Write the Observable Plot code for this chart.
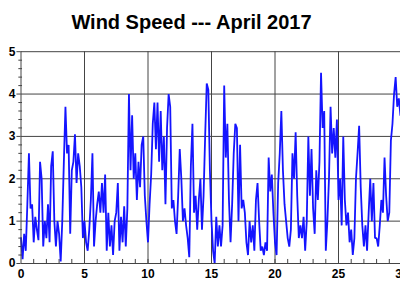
<!DOCTYPE html>
<html>
<head>
<meta charset="utf-8">
<script src="https://cdn.jsdelivr.net/npm/d3@7"></script>
<script src="https://cdn.jsdelivr.net/npm/@observablehq/plot@0.6"></script>
<style>
  html, body { margin: 0; padding: 0; background: #fff; width: 400px; height: 300px; overflow: hidden; }
  #title { height: 40px; font: bold 20px "Liberation Sans", Arial, sans-serif; line-height: 45px; text-align: center; padding-right: 17px; color: #000; white-space: nowrap; }
  #chart svg { display: block; }
</style>
</head>
<body>
<div id="title">Wind Speed --- April 2017</div>
<div id="chart"></div>
<script>
// Wind speed, read every 3 hours (8 readings per day), April 1–30
const speed = [
  0.6, 0.1, 0.7, 0.3, 1.4, 2.6, 1.3, 1.4,
  0.5, 1.1, 0.8, 0.55, 2.4, 2.0, 0.4, 1.0,
  0.6, 1.4, 0.5, 2.3, 2.65, 1.0, 0.4, 1.0,
  0.7, 0.05, 1.0, 2.4, 3.7, 2.6, 2.8, 0.7,
  2.2, 2.4, 3.05, 1.9, 2.6, 2.3, 1.8, 0.6,
  1.0, 0.5, 0.3, 0.8, 1.5, 2.6, 0.4, 1.0,
  1.4, 1.7, 1.2, 1.9, 1.2, 2.1, 0.3, 1.2,
  0.4, 0.9, 0.2, 1.0, 1.2, 1.9, 0.3, 1.1,
  0.5, 1.35, 0.4, 1.3, 4.0, 2.2, 3.5, 2.0,
  2.6, 1.5, 2.4, 1.8, 2.8, 3.0, 1.6, 1.0,
  0.5, 1.4, 2.1, 3.3, 3.8, 2.7, 3.8, 2.4,
  3.6, 2.2, 3.0, 1.4, 3.2, 4.0, 3.7, 1.3,
  1.5, 1.0, 0.7, 1.6, 2.7, 2.0, 1.0, 1.3,
  0.9, 0.6, 0.15, 2.3, 3.3, 1.2, 1.6, 0.8,
  1.5, 2.0, 0.8, 1.6, 3.0, 4.25, 4.1, 2.2,
  1.0, 0.3, 0.0, 1.1, 0.4, 0.9, 0.4, 0.9,
  4.2, 2.5, 3.3, 1.5, 0.5, 1.4, 2.6, 3.3,
  3.2, 1.0, 2.8, 1.3, 1.5, 1.2, 0.5, 0.2,
  1.0, 0.5, 0.9, 0.3, 1.5, 1.9, 1.0, 0.3,
  0.4, 0.2, 0.5, 0.3, 2.5, 1.7, 2.1, 1.2,
  0.5, 0.2, 1.9, 2.6, 3.6, 2.2, 1.4, 1.0,
  0.6, 0.4, 0.8, 2.6, 2.0, 3.1, 1.6, 0.6,
  0.9, 0.6, 1.1, 0.3, 1.0, 3.0, 1.6, 2.7,
  1.3, 0.7, 2.2, 1.5, 2.4, 4.5, 3.2, 3.6,
  0.3, 1.0, 2.0, 3.7, 2.6, 3.2, 2.5, 3.4,
  1.5, 2.0, 0.9, 3.0, 1.5, 0.9, 1.2, 0.5,
  0.8, 0.2, 0.6, 2.0, 2.6, 3.25, 1.8, 0.9,
  0.4, 0.9, 0.3, 1.2, 2.0, 1.0, 1.9, 0.6,
  0.6, 0.4, 0.9, 1.5, 1.2, 2.5, 1.6, 1.0,
  1.2, 2.9, 3.3, 4.0, 4.4, 3.7, 3.9, 3.5
];
const readingsPerDay = 8;
const xTicks = [0, 5, 10, 15, 20, 25, 30];
const yTicks = [0, 1, 2, 3, 4, 5];
const xMinor = d3.range(1, 30);
const yMinor = [0.2,0.4,0.6,0.8,1.2,1.4,1.6,1.8,2.2,2.4,2.6,2.8,3.2,3.4,3.6,3.8,4.2,4.4,4.6,4.8];

const data = speed.map((v, i) => ({day: i / readingsPerDay, v}));
const gridColor = "#444";
const font = 'bold 12px "Liberation Sans", Arial, sans-serif';

const chart = Plot.plot({
  width: 400,
  height: 260,
  marginLeft: 20.5,
  marginRight: -1.5,
  marginTop: 11.2,
  marginBottom: 37,
  style: {font, color: "#000", background: "#fff", overflow: "visible"},
  x: {domain: [0, 30], ticks: xTicks, label: null},
  y: {domain: [0, 5], ticks: yTicks, label: null},
  marks: [
    Plot.ruleX(xTicks.filter(d => d > 0), {stroke: gridColor, strokeWidth: 1}),
    Plot.ruleY(yTicks.filter(d => d > 0), {stroke: gridColor, strokeWidth: 1}),
    Plot.ruleY(yMinor, {x1: -0.17, x2: 0.12, stroke: gridColor}),
    Plot.ruleY(yTicks, {x1: -0.32, x2: 0, stroke: gridColor}),
    Plot.ruleX(xMinor, {y1: 0, y2: 0.095, stroke: gridColor}),
    Plot.line(data, {x: "day", y: "v", stroke: "#1414ff", strokeWidth: 1.8, strokeLinejoin: "miter"}),
    Plot.ruleX([0], {stroke: gridColor}),
    Plot.ruleY([0], {stroke: gridColor}),
    Plot.axisX({ticks: xTicks, tickSize: 0, tickPadding: 6, tickFormat: "d", label: null, fill: "#000", fontWeight: "bold", fontSize: 12}),
    Plot.axisY({ticks: yTicks, tickSize: 0, tickPadding: 5.5, tickFormat: "d", label: null, fill: "#000", fontWeight: "bold", fontSize: 12})
  ]
});
document.getElementById("chart").appendChild(chart);
</script>
</body>
</html>
